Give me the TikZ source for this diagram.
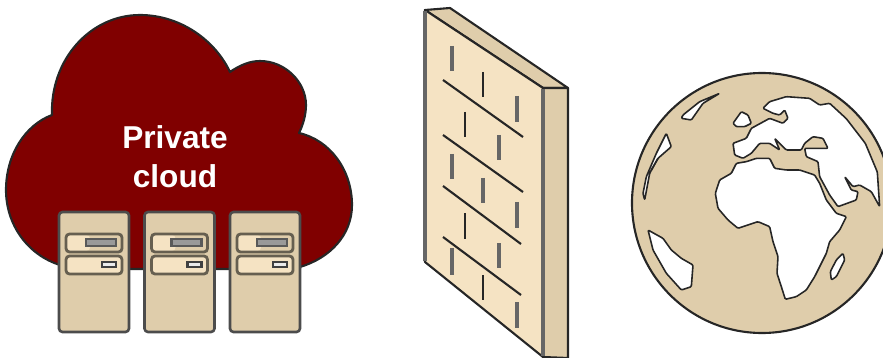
\documentclass[tikz,border=0pt]{standalone}
\usepackage{fontspec}
\setmainfont{Liberation Sans}
\definecolor{cloudred}{HTML}{800000}
\definecolor{tan}{HTML}{DFCDAB}
\definecolor{lighttan}{HTML}{F5E3C3}
\definecolor{panelline}{HTML}{665F50}
\tikzset{
    outline/.style={draw=black!85, line width=1.2pt, line join=round},
    brick/.style={draw=black!85, line width=1.2pt},
    greybrick/.style={draw=black!60, line width=2pt},
    panel/.style={draw=panelline, line width=1.6pt, rounded corners=2pt},
    land/.style={fill=white, draw=black!85, line width=0.9pt, line join=round, rounded corners=0.6pt},
}
\begin{document}
\begin{tikzpicture}[x=0.02cm, y=-0.02cm]
                    \clip (0,0) rectangle (883,358);
                    \useasboundingbox (0,0) rectangle (883,358);
                    % Cloud
                    \draw[outline, fill=cloudred] (52,115) .. controls (50,60) and (90,15) .. (140,15)
                        .. controls (180,15) and (215,40) .. (230,72)
                        .. controls (240,65) and (250,61) .. (260,61)
                        .. controls (285,61) and (306,82) .. (306,105)
                        .. controls (306,115) and (303,125) .. (299,133)
                        .. controls (330,140) and (352,170) .. (352,205)
                        .. controls (352,235) and (330,258) .. (300,267)
                        -- (300,269) -- (60,269) -- (60,265)
                        .. controls (28,255) and (6,225) .. (6,190)
                        .. controls (6,155) and (25,125) .. (52,115) -- cycle;
                    \node[text=white, font=\fontsize{18}{22.5}\selectfont\bfseries, align=center] (privatecloud) at (175,156.5) {Private\\cloud};
                    % Servers
                    \foreach \x in {0,85.5,171} {
                        \begin{scope}[shift={(\x,0)}]
                            \draw[outline, fill=tan, rounded corners=2pt, draw=black!70, line width=1.5pt] (59,212) rectangle (129,332);
                            \fill[lighttan, rounded corners=2pt] (67,235) rectangle (90,251);
                            \draw[panel] (66,234) rectangle (122,252);
                            \draw[draw=black!65, fill=black!40, line width=1.3pt] (86,239) rectangle (116,246);
                            \fill[lighttan, rounded corners=2pt] (66,256) rectangle (122,274);
                            \draw[panel] (66,256) rectangle (122,274);
                            \draw[draw=black!75, fill=black!8, line width=1.2pt] (102,262) rectangle (116,267);
                        \end{scope}
                    }
                    % Wall
                    \draw[outline, fill=tan] (425,10) -- (450,8) -- (568,88) -- (543,88) -- cycle;
                    \draw[outline, fill=tan] (543,88) -- (568,88) -- (568,358) -- (543,357) -- cycle;
                    \draw[outline, fill=lighttan] (425,10) -- (543,88) -- (543,357) -- (425,262) -- cycle;
                    \draw[draw=black!60, line width=2pt] (543,89) -- (543,356);
                    \draw[draw=black!60, line width=2pt] (425,11) -- (425,261);
                    \draw[brick] (443,80) -- (523,137);
                    \draw[brick] (443,135) -- (523,192);
                    \draw[brick] (443,186) -- (521,244);
                    \draw[brick] (443,237) -- (521,295);
                    \foreach \x/\a/\b in {483/72/97, 465/112/137, 465/213/239, 483/275/300} {
                        \draw[brick] (\x,\a) -- (\x,\b);
                    }
                    \foreach \x/\a/\b in {452/46/71, 517/96/122, 499/135/160, 452/154/179, 483/178/203, 517/202/228, 499/243/268, 452/248/275, 517/302/328} {
                        \draw[greybrick] (\x,\a) -- (\x,\b);
                    }
                    % Globe
                    \draw[outline, fill=tan] (762,203) circle (130);
                    \begin{scope}[shift={(623,60)}, x=0.006667cm, y=-0.006667cm]
                        % Africa
                        \draw[land] (340,310) -- (370,305) -- (400,295) -- (440,295) -- (455,325) -- (490,330) -- (530,330) -- (575,345) -- (590,370) -- (610,420) -- (640,460) -- (670,470) -- (650,510) -- (620,545) -- (610,580) -- (590,620) -- (575,650) -- (550,690) -- (520,710) -- (487,718) -- (475,680) -- (462,640) -- (465,590) -- (450,545) -- (440,500) -- (405,485) -- (375,495) -- (345,505) -- (315,480) -- (285,445) -- (277,400) -- (290,360) -- (325,340) -- cycle;
                        % Eurasia
                        \draw[land] (420,145) -- (440,125) -- (490,110) -- (560,115) -- (590,135) -- (620,130) -- (670,176) -- (727,250) -- (763,336) -- (770,440) -- (745,395) -- (710,375) -- (690,380) -- (665,350) -- (685,390) -- (705,395) -- (700,420) -- (645,440) -- (620,405) -- (590,350) -- (585,305) -- (550,290) -- (545,265) -- (570,265) -- (615,265) -- (600,235) -- (570,230) -- (545,250) -- (535,270) -- (505,270) -- (490,270) -- (455,235) -- (470,270) -- (440,250) -- (410,250) -- (385,280) -- (360,295) -- (335,285) -- (330,250) -- (370,235) -- (385,205) -- (440,175) -- (480,190) -- (495,175) -- (485,150) -- (470,165) -- (450,160) -- cycle;
                        % Islands
                        \draw[land] (330,190) -- (355,155) -- (375,165) -- (385,190) -- (365,200) -- (340,200) -- cycle;
                        \draw[land] (660,580) -- (665,600) -- (640,650) -- (625,660) -- (622,635) -- (640,600) -- cycle;
                        % Americas
                        \draw[land] (290,100) -- (240,130) -- (205,180) -- (175,175) -- (180,165) -- (230,125) -- cycle;
                        \draw[land] (130,220) -- (145,260) -- (105,295) -- (80,340) -- (65,420) -- (60,400) -- (70,350) -- (100,280) -- cycle;
                        \draw[land] (105,295) -- (85,330);
                        \draw[land] (75,510) -- (120,535) -- (145,570) -- (175,595) -- (210,615) -- (205,680) -- (175,690) -- (130,640) -- (90,570) -- cycle;
                    \end{scope}
                \end{tikzpicture}
\end{document}
